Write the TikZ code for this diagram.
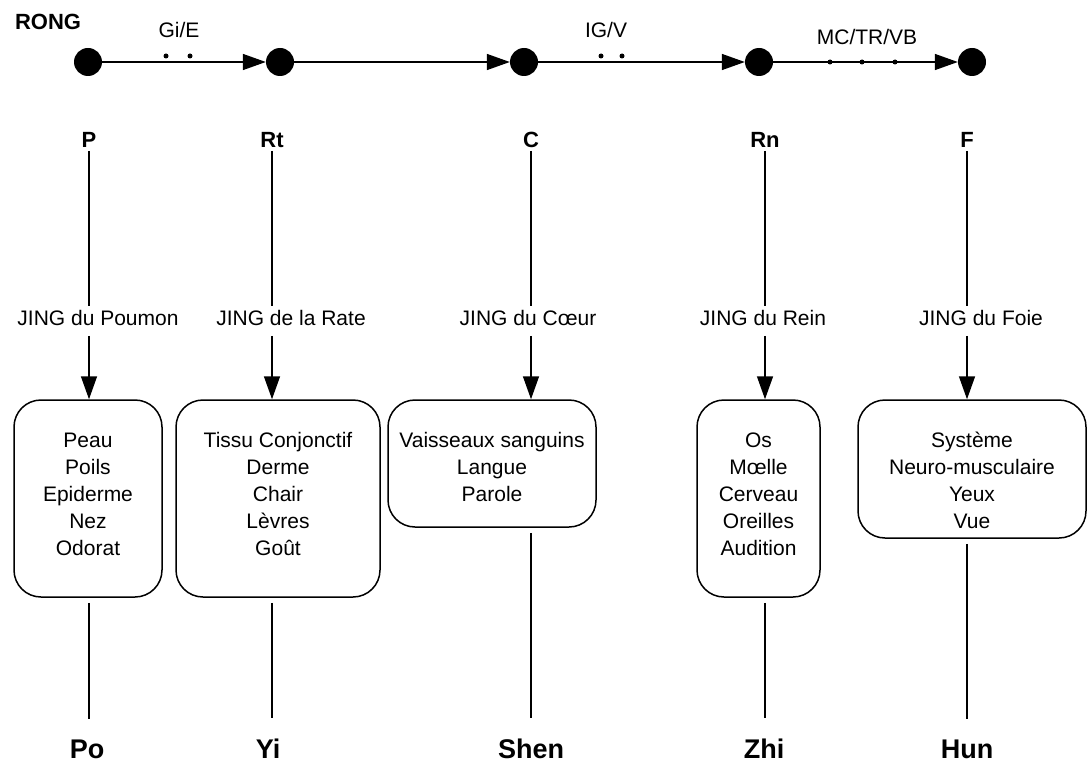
\documentclass[tikz,border=0pt]{standalone}
\usepackage{fontspec}
\setmainfont{Liberation Sans}
\usetikzlibrary{arrows.meta}

\tikzset{
  dot/.style={circle, fill=black, inner sep=0pt, minimum size=28pt},
  flow/.style={line width=1.5pt, -{Triangle[length=23pt,width=16pt]}},
  link/.style={line width=1.4pt},
  organ/.style={draw, line width=1.5pt, rounded corners=27pt, inner sep=0pt},
  items/.style={align=center, anchor=north, inner sep=0pt, font=\fontsize{21}{27}\selectfont},
  tag/.style={inner sep=4pt, font=\fontsize{21}{24}\selectfont},
  zang/.style={inner sep=3pt, font=\fontsize{22}{24}\selectfont\bfseries},
  esprit/.style={inner sep=2pt, anchor=base, font=\fontsize{27}{30}\selectfont\bfseries},
}
\newcommand{\topline}{\rule{0pt}{18pt}}

\begin{document}
\begin{tikzpicture}[x=1pt, y=-1pt]
  \useasboundingbox (0,0) rectangle (1091,762);

\node[zang] (rong) at (48,22) {RONG};

\node[dot] (r1) at (88,62) {};
\node[dot] (r2) at (280,62) {};
\node[dot] (r3) at (524,62) {};
\node[dot] (r4) at (759,62) {};
\node[dot] (r5) at (972,62) {};

\draw [flow] (r1) -- (r2);
\draw [flow] (r2) -- (r3);
\draw [flow] (r3) -- (r4);
\draw [flow] (r4) -- (r5);

\node[tag] (gie) at (179,30) {Gi/E};
\node[tag] (igv) at (606,30) {IG/V};
\node[tag] (mtv) at (867,37) {MC/TR/VB};

\fill (166,56) circle (2.5pt);
\fill (190,56) circle (2.5pt);
\fill (601,56) circle (2.5pt);
\fill (622,56) circle (2.5pt);
\fill (830,62) circle (2.5pt);
\fill (862,62) circle (2.5pt);
\fill (895,62) circle (2.5pt);

\node[zang] (p)  at (89,140)  {P};
\node[zang] (rt) at (272,140) {Rt};
\node[zang] (c)  at (531,140) {C};
\node[zang] (rn) at (765,140) {Rn};
\node[zang] (f)  at (967,140) {F};

\node[tag] (jp)  at (98,318)  {JING du Poumon};
\node[tag] (jrt) at (291,318) {JING de la Rate};
\node[tag] (jc)  at (528,318) {JING du C\oe ur};
\node[tag] (jrn) at (763,318) {JING du Rein};
\node[tag] (jf)  at (981,318) {JING du Foie};

\node[organ, minimum width=148, minimum height=197] (poumon) at (88,498.5) {};
\node[organ, minimum width=204, minimum height=197] (rate)   at (278,498.5) {};
\node[organ, minimum width=208, minimum height=127] (coeur)  at (492,463.5) {};
\node[organ, minimum width=123, minimum height=197] (rein)   at (758.5,498.5) {};
\node[organ, minimum width=228, minimum height=138] (foie)   at (972,469) {};

\node[items] (lp)  at ([yshift=-30pt]poumon.north) {\topline Peau\\Poils\\Epiderme\\Nez\\Odorat};
\node[items] (lrt) at ([yshift=-30pt]rate.north) {\topline Tissu Conjonctif\\Derme\\Chair\\Lèvres\\Goût};
\node[items] (lc)  at ([yshift=-30pt]coeur.north) {\topline Vaisseaux sanguins\\Langue\\Parole};
\node[items] (lrn) at ([yshift=-30pt]rein.north) {\topline Os\\M\oe lle\\Cerveau\\Oreilles\\Audition};
\node[items] (lf)  at ([yshift=-30pt]foie.north) {\topline Système\\Neuro-musculaire\\Yeux\\Vue};

\node[esprit] (po)   at (87,758)  {Po};
\node[esprit] (yi)   at (268,758) {Yi};
\node[esprit] (shen) at (531,758) {Shen};
\node[esprit] (zhi)  at (764,758) {Zhi};
\node[esprit] (hun)  at (967,758) {Hun};

\draw [link] (p.south)  -- (p.south |- jp.north);
\draw [link] (rt.south) -- (rt.south |- jrt.north);
\draw [link] (c.south)  -- (c.south |- jc.north);
\draw [link] (rn.south) -- (rn.south |- jrn.north);
\draw [link] (f.south)  -- (f.south |- jf.north);

\draw [flow, shorten <=6pt] (p.south |- jp.south)   -- (p.south |- poumon.north);
\draw [flow, shorten <=6pt] (rt.south |- jrt.south) -- (rt.south |- rate.north);
\draw [flow, shorten <=6pt] (c.south |- jc.south)   -- (c.south |- coeur.north);
\draw [flow, shorten <=6pt] (rn.south |- jrn.south) -- (rn.south |- rein.north);
\draw [flow, shorten <=6pt] (f.south |- jf.south)   -- (f.south |- foie.north);

\draw [link, shorten <=5pt, shorten >=18pt] (p.south |- poumon.south) -- (p.south |- po.north);
\draw [link, shorten <=5pt, shorten >=18pt] (rt.south |- rate.south) -- (rt.south |- yi.north);
\draw [link, shorten <=5pt, shorten >=18pt] (c.south |- coeur.south) -- (c.south |- shen.north);
\draw [link, shorten <=5pt, shorten >=18pt] (rn.south |- rein.south) -- (rn.south |- zhi.north);
\draw [link, shorten <=5pt, shorten >=18pt] (f.south |- foie.south) -- (f.south |- hun.north);
\end{tikzpicture}
\end{document}
